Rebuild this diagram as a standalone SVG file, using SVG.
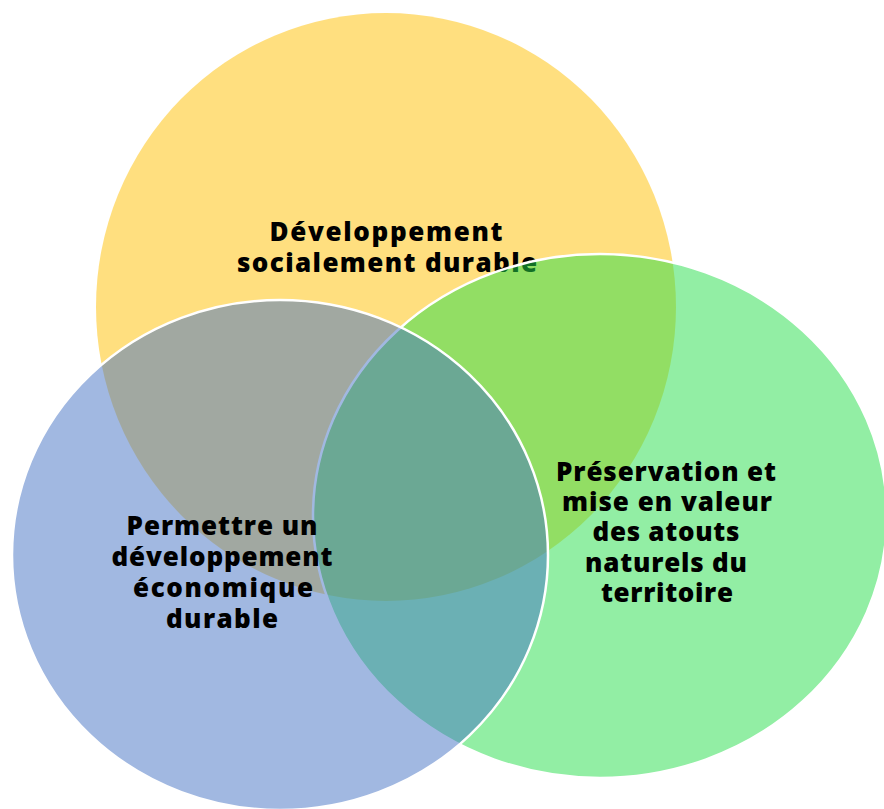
<svg xmlns="http://www.w3.org/2000/svg" width="884" height="809" viewBox="0 0 884 809">
<style>
.lbl{font-family:"Open Sans","Noto Sans","Liberation Sans",sans-serif;font-weight:800;font-size:26px;fill:#000;text-anchor:middle}
.sh{stroke:#fff;stroke-width:2.5}
</style>
<rect width="884" height="809" fill="#fff"/>
<g id="social">
<ellipse cx="386" cy="307" rx="290" ry="294" fill="#FFC000" fill-opacity="0.5"/>
<text class="lbl" x="386" y="241" textLength="233" lengthAdjust="spacing">Développement</text>
<text class="lbl" x="387" y="272" textLength="300" lengthAdjust="spacing">socialement durable</text>
</g>
<g id="environnement">
<ellipse class="sh" cx="600" cy="516" rx="287" ry="262" fill="#26DE4A" fill-opacity="0.5"/>
<text class="lbl" x="666" y="481" textLength="220" lengthAdjust="spacing">Préservation et</text>
<text class="lbl" x="667" y="511" textLength="210" lengthAdjust="spacing">mise en valeur</text>
<text class="lbl" x="666" y="541" textLength="147" lengthAdjust="spacing">des atouts</text>
<text class="lbl" x="666" y="572" textLength="162" lengthAdjust="spacing">naturels du</text>
<text class="lbl" x="667" y="602" textLength="132" lengthAdjust="spacing">territoire</text>
</g>
<g id="economie">
<ellipse class="sh" cx="280" cy="555" rx="268" ry="255" fill="#4472C4" fill-opacity="0.5"/>
<text class="lbl" x="222" y="535" textLength="191" lengthAdjust="spacing">Permettre un</text>
<text class="lbl" x="222" y="566" textLength="221" lengthAdjust="spacing">développement</text>
<text class="lbl" x="223" y="597" textLength="180" lengthAdjust="spacing">économique</text>
<text class="lbl" x="222" y="628" textLength="112" lengthAdjust="spacing">durable</text>
</g>
<g id="connectors"></g>
</svg>
